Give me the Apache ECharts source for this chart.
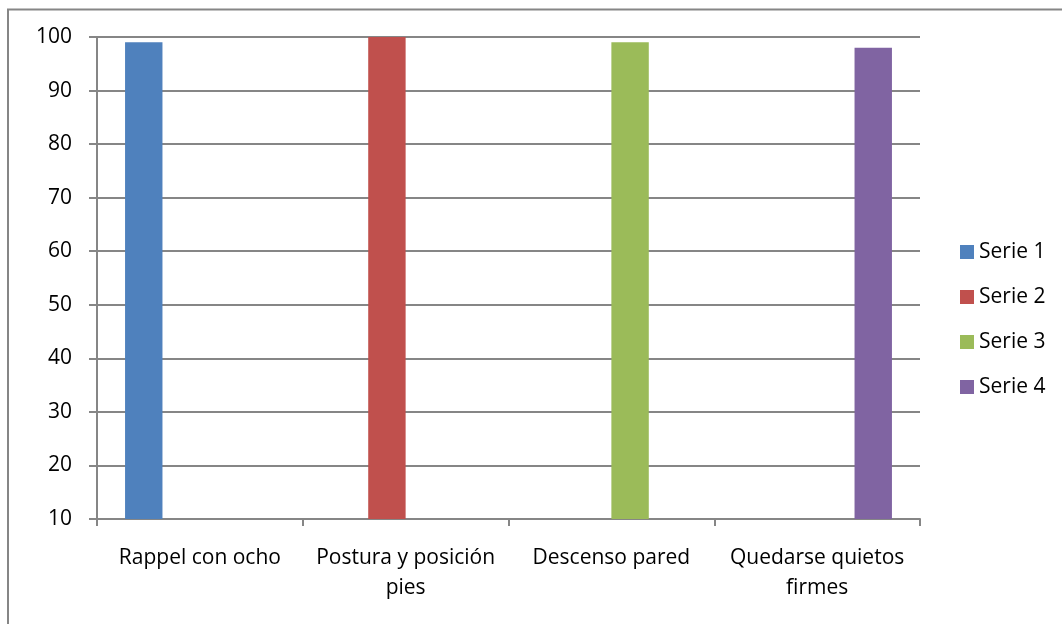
<!DOCTYPE html>
<html>
<head>
<meta charset="utf-8">
<script src="https://cdn.jsdelivr.net/npm/echarts@6/dist/echarts.min.js"></script>
<style>
  html, body { margin: 0; padding: 0; background: #fff; }
  #chart { width: 1062px; height: 624px; }
</style>
</head>
<body>
<div id="chart"></div>
<script>
// Categories (line breaks as displayed under the axis)
const categories = ['Rappel con ocho', 'Postura y posición\npies', 'Descenso pared', 'Quedarse quietos\nfirmes'];
const seriesNames = ['Serie 1', 'Serie 2', 'Serie 3', 'Serie 4'];
// Each series carries a value only in its own category
const serie1 = [99, null, null, null];
const serie2 = [null, 100, null, null];
const serie3 = [null, null, 99, null];
const serie4 = [null, null, null, 98];
const colors = ['#4F81BD', '#C0504D', '#9BBB59', '#8064A2'];
const yMin = 10, yMax = 100, yStep = 10;

const FONT = 'Open Sans';
const GRAY = '#868686';
const FS = 21;

const chart = echarts.init(document.getElementById('chart'), null, { renderer: 'canvas' });
const values = [serie1, serie2, serie3, serie4];

chart.setOption({
  animation: false,
  color: colors,
  textStyle: { fontFamily: FONT },
  graphic: [{
    type: 'rect',
    shape: { x: 8, y: 9.5, width: 1100, height: 700 },
    style: { fill: 'none', stroke: GRAY, lineWidth: 2 },
    silent: true
  }],
  grid: { left: 97, right: 142, top: 37, bottom: 105, containLabel: false },
  legend: {
    orient: 'vertical',
    left: 960,
    top: 241,
    padding: 0,
    icon: 'rect',
    itemWidth: 14,
    itemHeight: 14,
    itemGap: 23,
    textStyle: { fontFamily: FONT, fontSize: FS, color: '#000', lineHeight: 22 },
    data: seriesNames
  },
  xAxis: {
    type: 'category',
    data: categories,
    axisLine: { lineStyle: { color: GRAY, width: 2 } },
    axisTick: { show: true, length: 7, lineStyle: { color: GRAY, width: 2 } },
    axisLabel: { color: '#000', fontFamily: FONT, fontSize: FS, lineHeight: 30, margin: 24, interval: 0 },
    splitLine: { show: false }
  },
  yAxis: {
    type: 'value',
    min: yMin,
    max: yMax,
    interval: yStep,
    axisLine: { show: true, lineStyle: { color: GRAY, width: 2 } },
    axisTick: { show: true, length: 8, lineStyle: { color: GRAY, width: 2 } },
    axisLabel: { color: '#000', fontFamily: FONT, fontSize: FS, margin: 25 },
    splitLine: { show: true, lineStyle: { color: GRAY, width: 2 } }
  },
  series: seriesNames.map((name, i) => ({
    name: name,
    type: 'bar',
    data: values[i],
    barGap: '0%',
    barCategoryGap: '27.27%',
    itemStyle: { color: colors[i] }
  }))
});
</script>
</body>
</html>
